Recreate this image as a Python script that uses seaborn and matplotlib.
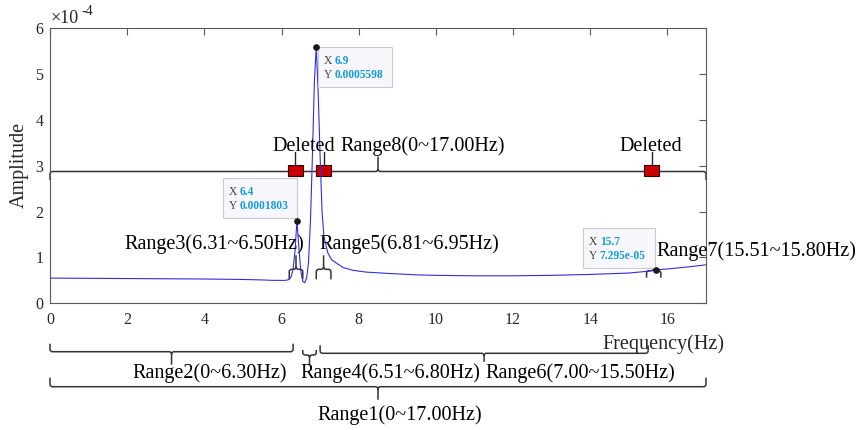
import numpy as np
import pandas as pd
import matplotlib
matplotlib.use("Agg")
import matplotlib.pyplot as plt
import matplotlib.transforms as mtransforms
from matplotlib.path import Path
from matplotlib.patches import PathPatch, Rectangle
import seaborn as sns

# ---------------- data ----------------
freq_hz = [0.0, 1.0, 2.0, 3.0, 4.0, 5.0, 5.5, 5.8, 6.0, 6.1, 6.2, 6.25, 6.3, 6.35,
           6.4, 6.45, 6.5, 6.55, 6.6, 6.65, 6.7, 6.75, 6.8, 6.85, 6.9, 6.95, 7.0,
           7.05, 7.1, 7.2, 7.3, 7.45, 7.6, 7.85, 8.2, 8.8, 9.5, 10.0, 11.0, 12.0,
           13.0, 14.0, 15.0, 15.5, 15.7, 16.0, 16.5, 17.0]
amp_e4 = [0.55, 0.545, 0.54, 0.535, 0.53, 0.52, 0.51, 0.50, 0.50, 0.50, 0.52, 0.58,
          0.75, 1.15, 1.803, 1.20, 0.70, 0.48, 0.45, 0.55, 0.90, 1.80, 3.20, 4.80,
          5.598, 4.60, 3.20, 2.00, 1.45, 1.10, 0.95, 0.86, 0.78, 0.72, 0.68, 0.65,
          0.62, 0.61, 0.60, 0.60, 0.61, 0.63, 0.66, 0.70, 0.7295, 0.75, 0.79, 0.84]

tip_freq = [6.9, 6.4, 15.7]
tip_amp_e4 = [5.598, 1.803, 0.7295]

x_ticks = [0, 2, 4, 6, 8, 10, 12, 14, 16]
y_ticks_e4 = [0, 1, 2, 3, 4, 5, 6]

brace_labels = ["Range1(0~17.00Hz)", "Range2(0~6.30Hz)", "Range3(6.31~6.50Hz)",
                "Range4(6.51~6.80Hz)", "Range5(6.81~6.95Hz)", "Range6(7.00~15.50Hz)",
                "Range7(15.51~15.80Hz)", "Range8(0~17.00Hz)"]
brace_start = [0.0, 0.0, 6.20, 6.55, 6.90, 7.00, 15.46, 0.0]
brace_end = [17.0, 6.30, 6.55, 6.90, 7.28, 15.50, 15.83, 17.0]

deleted_freq = [6.35, 7.10, 15.59]
deleted_text = "Deleted"

# ---------------- layout / style ----------------
W, H = 860, 430
# per brace: line y (px, top origin), side (+1 ends down/tip up, -1 ends up/tip down),
# tip length, end length, label centre x px, label baseline px
brace_y = [386.7, 351.7, 269.3, 355.0, 269.3, 353.3, 270.7, 171.5]
brace_side = [-1, -1, 1, -1, 1, -1, 1, 1]
brace_tip = [13, 13, 14, 10, 14, 8.5, 14, 15]
brace_endlen = [9, 8, 10, 5, 10, 8, 7, 8.5]
label_cx = [400, 210, 214, 390, 409, 580, 756, 423]
label_base = [420, 378.3, 249, 378.3, 249, 378, 256, 151]
deleted_label_cx = [304, 651]
deleted_label_base = [151, 151]

sns.set_theme(style="white")
plt.rcParams["font.family"] = ["Liberation Serif", "DejaVu Serif"]
plt.rcParams["mathtext.fontset"] = "custom"
plt.rcParams["mathtext.rm"] = "Liberation Serif"

fig = plt.figure(figsize=(W / 100, H / 100), dpi=100)
fig.patch.set_facecolor("white")
ax = fig.add_axes([50 / W, (H - 303.3) / H, (706 - 50) / W, (303.3 - 28.3) / H])
ax.set_facecolor("white")

df = pd.DataFrame({"freq": freq_hz, "amp": amp_e4})
sns.lineplot(data=df, x="freq", y="amp", color="#2f2fe0", linewidth=0.8, ax=ax, zorder=3)
ax.set_xlim(0, 17)
ax.set_ylim(0, 6)
ax.set_xlabel("")
ax.set_ylabel("")
ax.set_xticks(x_ticks)
ax.set_yticks(y_ticks_e4)
ax.set_xticklabels([str(t) for t in x_ticks])
ax.set_yticklabels([str(t) for t in y_ticks_e4])
axis_col = "#5a5a5a"
for sp in ax.spines.values():
    sp.set_visible(True)
    sp.set_color(axis_col)
    sp.set_linewidth(0.8)
ax.tick_params(axis="both", direction="in", length=5, width=0.8, color=axis_col,
               top=True, right=True, labelsize=11.5, labelcolor="#262626")
ax.tick_params(axis="x", pad=6.6)
ax.tick_params(axis="y", pad=4.7)

# reference-pixel transform (top-left origin)
P = mtransforms.Affine2D().scale(1.0 / W, -1.0 / H).translate(0, 1) + fig.transFigure
Pinv = P.inverted()


def to_px(x, y):
    return Pinv.transform(ax.transData.transform((x, y)))


def xpx(x):
    return to_px(x, 0)[0]


def add_text(px, py, s, **kw):
    t = ax.text(px, py, s, transform=P, clip_on=False, **kw)
    return t


def brace(x0, x1, y, s, tip, end, r=2.5, color="#333333", lw=1.1):
    tx = 0.5 * (x0 + x1)
    M, L, C = Path.MOVETO, Path.LINETO, Path.CURVE3
    verts = [(x0, y + s * end), (x0, y + s * r), (x0, y), (x0 + r, y), (tx - r, y),
             (tx, y), (tx, y - s * r), (tx, y - s * tip),
             (tx, y - s * r), (tx, y), (tx + r, y), (x1 - r, y), (x1, y),
             (x1, y + s * r), (x1, y + s * end)]
    codes = [M, L, C, C, L, C, C, L, M, C, C, L, C, C, L]
    pp = PathPatch(Path(verts, codes), facecolor="none", edgecolor=color, lw=lw,
                   transform=P, clip_on=False, zorder=2, capstyle="butt", joinstyle="round")
    ax.add_artist(pp)


# braces + labels
for i, lab in enumerate(brace_labels):
    x0, x1 = xpx(brace_start[i]), xpx(brace_end[i])
    brace(x0, x1, brace_y[i], brace_side[i], brace_tip[i], brace_endlen[i])
    add_text(label_cx[i], label_base[i], lab, ha="center", va="baseline",
             fontsize=14.5, color="black", zorder=4)

# deleted markers on Range8
for fx in deleted_freq:
    cx = xpx(fx)
    ax.add_artist(Rectangle((cx - 7.5, 165), 15, 11, facecolor="#c80000", edgecolor="#3a0000",
                            lw=0.8, transform=P, clip_on=False, zorder=2.5))
    ax.add_artist(plt.Line2D([cx, cx], [165, 151.5], color="#222222", lw=1.0,
                             transform=P, clip_on=False, zorder=2.5))
for cx, by in zip(deleted_label_cx, deleted_label_base):
    add_text(cx, by, deleted_text, ha="center", va="baseline", fontsize=14.5, color="black", zorder=4)

# datatips
ax.plot(tip_freq, tip_amp_e4, linestyle="none", marker="o", markersize=3.8,
        color="#1a1a1a", zorder=6, clip_on=False)
tip_mode = ["tl", "br", "br"]
tip_off = [(1.5, 0.0), (0.0, -2.7), (-1.0, -1.7)]
tip_w = [74, 74, 72]
tip_h = 40
for i in range(len(tip_freq)):
    dx, dy = to_px(tip_freq[i], tip_amp_e4[i])
    ox, oy = tip_off[i]
    if tip_mode[i] == "tl":
        left, top = dx + ox, dy + oy
    else:
        left, top = dx + ox - tip_w[i], dy + oy - tip_h
    ax.add_artist(Rectangle((left, top), tip_w[i], tip_h, facecolor="#f8f8fc",
                            edgecolor="#c9c9d2", lw=0.8, transform=P, clip_on=False, zorder=5))
    xs = "%g" % tip_freq[i]
    ys = "%.4g" % (tip_amp_e4[i] * 1e-4)
    add_text(left + 6, top + 17, "X", ha="left", va="baseline", fontsize=8.3, color="#404040", zorder=6)
    add_text(left + 6, top + 31, "Y", ha="left", va="baseline", fontsize=8.3, color="#404040", zorder=6)
    add_text(left + 17, top + 17, xs, ha="left", va="baseline", fontsize=8.3, color="#129be6",
             fontweight="bold", zorder=6)
    add_text(left + 17, top + 31, ys, ha="left", va="baseline", fontsize=8.3, color="#129be6",
             fontweight="bold", zorder=6)

# axis labels and exponent
add_text(663, 349.3, "Frequency(Hz)", ha="center", va="baseline", fontsize=14.5, color="#262626")
add_text(19, 165, "Amplitude", ha="center", va="center", rotation=90, fontsize=14.5, color="#262626")
add_text(51, 23, "\u00d710", ha="left", va="baseline", fontsize=13, color="#262626")
add_text(81, 15, "-4", ha="left", va="baseline", fontsize=10, color="#262626")

fig.savefig("out.png", dpi=100, facecolor="white")
